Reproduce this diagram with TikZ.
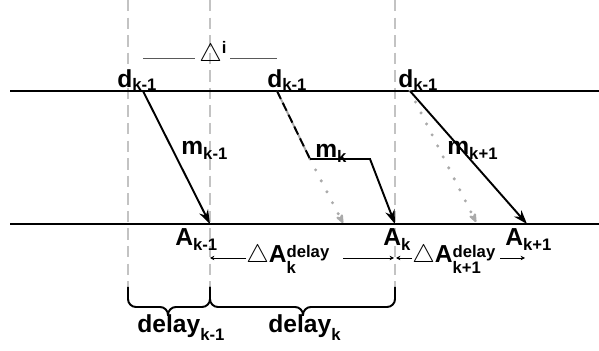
\documentclass[tikz,border=0pt]{standalone}
\usepackage{fontspec}
\setmainfont{Liberation Sans}
\usetikzlibrary{arrows.meta}
\definecolor{guidegray}{RGB}{195,195,195}
\definecolor{dotgray}{RGB}{170,170,170}
\newcommand{\subfont}{\fontsize{9.5}{10}\selectfont}
\newcommand{\lo}[2][-2.5pt]{\raisebox{#1}{\subfont #2}}
\newcommand{\hilo}[2]{\rlap{\raisebox{-5.7pt}{\subfont #2}}\raisebox{3.4pt}{\subfont #1}}
\newcommand{\tri}{{\fontsize{14}{14}\selectfont$\bigtriangleup$}}

\begin{document}
\begin{tikzpicture}[x=0.02cm, y=-0.02cm,
        lbl/.style={font=\fontsize{14}{16}\selectfont\bfseries, inner sep=0pt, anchor=base west},
        guide/.style={guidegray, line width=1.1pt, dash pattern=on 6.5pt off 3.5pt},
        timeline/.style={black, line width=0.9pt},
        msg/.style={-{Stealth[length=8pt, width=5.5pt]}, line width=1.1pt, black},
        ghost/.style={-{Stealth[length=7pt, width=5.5pt, round]}, dotgray, line width=1.9pt, dash pattern=on 0pt off 7pt, line cap=round},
        span/.style={-{Stealth[length=2.5pt, width=2.5pt]}, line width=0.5pt, black},
        brace/.style={line width=1.1pt, black, rounded corners=4.5pt}
    ]
        \useasboundingbox (0,0) rectangle (599,351);

        % Guide lines
        \foreach \gx in {128,210,395} {
            \draw[guide] (\gx,0) -- (\gx,287);
        }

        % Time lines
        \coordinate (tl) at (10,91);  \coordinate (tr) at (599,91);
        \coordinate (bl) at (10,224); \coordinate (br) at (599,224);
        \draw[timeline] (tl) -- (tr);
        \draw[timeline] (bl) -- (br);

        % Interval at top
        \node[lbl] (deltai) at (199,62) {\tri\lo[5pt]{i}};
        \coordinate (il) at (143,58); \coordinate (ir) at (277,58);
        \draw[black!65, line width=0.5pt] (il) -- ([xshift=-2pt]deltai.west |- il);
        \draw[black!65, line width=0.5pt] ([xshift=2pt]deltai.east |- ir) -- (ir);

        % Sender labels
        \foreach \name/\px in {d1/117, d2/267, d3/398} {
            \node[lbl] (\name) at (\px,88) {d\lo[-1.7pt]{k-1}};
        }

        % Messages
        \coordinate (s1) at (143,91); \coordinate (e1) at (210,224);
        \coordinate (s2) at (277,91); \coordinate (c2) at (310,159);
        \coordinate (b2) at (370,159); \coordinate (e2) at (395,224);
        \coordinate (g2) at (343,223);
        \coordinate (s3) at (410,91); \coordinate (e3) at (527,224);
        \coordinate (g3) at (476,222);

        \draw[msg] (s1) -- (e1);
        \draw[ghost] (c2) -- (g2);
        \draw[ghost] (s3) -- (g3);
        \draw[dotgray, line width=1.1pt] (s2) -- (c2);
        \draw[black, line width=1.1pt, dash pattern=on 5pt off 2.5pt] (s2) -- (c2);
        \draw[msg] (c2) -- (b2) -- (e2);
        \draw[msg] (s3) -- (e3);

        \node[lbl] (m1) at (181,155) {m\lo{k-1}};
        \node[lbl] (m2) at (315,158) {m\lo{k}};
        \node[lbl] (m3) at (447,155) {m\lo{k+1}};

        % Arrival labels
        \node[lbl] (a1) at (175,246) {A\lo{k-1}};
        \node[lbl] (a2) at (383,246) {A\lo{k}};
        \node[lbl] (a3) at (505,246) {A\lo{k+1}};

        % Arrival delays
        \node[lbl] (da1) at (246,263) {\tri A\hilo{delay}{k}};
        \node[lbl] (da2) at (412,263) {\tri A\hilo{delay}{k+1}};
        \coordinate (p1) at (210,258); \coordinate (q1) at (246,258);
        \coordinate (q2) at (343,258); \coordinate (p2) at (394,258);
        \coordinate (p3) at (396,258); \coordinate (q3) at (412,258);
        \coordinate (q4) at (500,258); \coordinate (p4) at (525,258);
        \draw[span] (q1) -- (p1);
        \draw[span] (q2) -- (p2);
        \draw[span] (q3) -- (p3);
        \draw[span] (q4) -- (p4);

        % Braces
        \draw[brace] (128,287) |- (168,307) -- (168,316);
        \draw[brace] (210,287) |- (168,307) -- (168,316);
        \draw[brace] (210,287) |- (303,307) -- (303,316);
        \draw[brace] (395,287) |- (303,307) -- (303,316);

        \node[lbl] (w1) at (137,333) {delay\lo[-4pt]{k-1}};
        \node[lbl] (w2) at (268,333) {delay\lo[-4.5pt]{k}};
    \end{tikzpicture}
\end{document}
